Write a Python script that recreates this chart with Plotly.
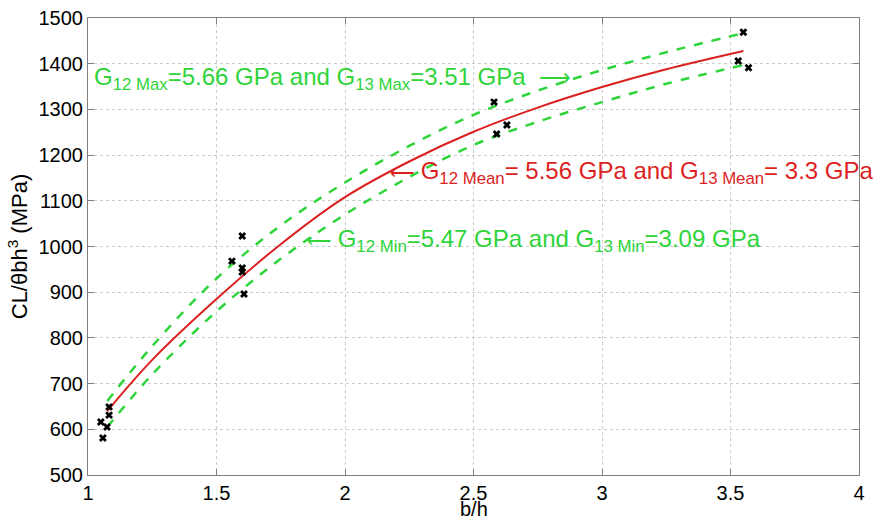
import plotly.graph_objects as go

# Experimental points (b/h, CL/theta bh^3 in MPa)
exp_x = [1.05, 1.058, 1.074, 1.082, 1.082,
         1.56, 1.60, 1.60, 1.60, 1.607,
         2.58, 2.59, 2.63,
         3.53, 3.55, 3.57]
exp_y = [616, 581, 605, 649, 631,
         968, 1023, 953, 944, 896,
         1316, 1246, 1266,
         1406, 1469, 1391]

# Model curves for mean, max and min shear moduli
curve_x = [1.075, 1.25, 1.5, 1.75, 2.0, 2.25, 2.5, 2.75, 3.0, 3.25, 3.55]
mean_y = [640, 752, 885, 1005, 1108, 1186, 1251, 1304, 1349, 1388, 1428]
max_y = [662, 782, 930, 1046, 1140, 1220, 1288, 1341, 1386, 1425, 1467]
min_y = [605, 720, 858, 973, 1070, 1152, 1222, 1273, 1316, 1356, 1397]

x_ticks = [1, 1.5, 2, 2.5, 3, 3.5, 4]
y_ticks = [500, 600, 700, 800, 900, 1000, 1100, 1200, 1300, 1400, 1500]

RED = "#dc1f1f"
GREEN = "#2ed43a"
FONT = "Arial, Liberation Sans, sans-serif"
LEFT_ARROW = "<span style='font-size:17px'>\u27f5</span>"
RIGHT_ARROW = "<span style='font-size:22px'>\u27f6</span>"

fig = go.Figure()
fig.add_trace(go.Scatter(x=curve_x, y=max_y, mode="lines", line_shape="spline",
                         line=dict(color=GREEN, width=2.5, dash="dash")))
fig.add_trace(go.Scatter(x=curve_x, y=min_y, mode="lines", line_shape="spline",
                         line=dict(color=GREEN, width=2.5, dash="dash")))
fig.add_trace(go.Scatter(x=curve_x, y=mean_y, mode="lines", line_shape="spline",
                         line=dict(color=RED, width=2)))
fig.add_trace(go.Scatter(x=exp_x, y=exp_y, mode="markers",
                         marker=dict(symbol="x", size=7, color="black",
                                     line=dict(width=0))))

fig.add_annotation(x=1.017, y=1368, xref="x", yref="y", xanchor="left", yanchor="middle",
                   showarrow=False, font=dict(family=FONT, size=24, color=GREEN),
                   text="G<sub>12 Max</sub>=5.66 GPa and G<sub>13 Max</sub>=3.51 GPa  " + RIGHT_ARROW)
fig.add_annotation(x=2.167, y=1162, xref="x", yref="y", xanchor="left", yanchor="middle",
                   showarrow=False, font=dict(family=FONT, size=24, color=RED),
                   text=LEFT_ARROW + " G<sub>12 Mean</sub>= 5.56 GPa and G<sub>13 Mean</sub>= 3.3 GPa")
fig.add_annotation(x=1.844, y=1014, xref="x", yref="y", xanchor="left", yanchor="middle",
                   showarrow=False, font=dict(family=FONT, size=24, color=GREEN),
                   text=LEFT_ARROW + " G<sub>12 Min</sub>=5.47 GPa and G<sub>13 Min</sub>=3.09 GPa")

# x-axis title placed below the tick labels
fig.add_annotation(x=0.5, y=-0.1007, xref="paper", yref="paper", xanchor="center",
                   yanchor="bottom", showarrow=False, borderpad=0,
                   font=dict(family=FONT, size=20, color="black"), text="b/h")

axis_common = dict(showline=True, linecolor="#808080", linewidth=1, mirror="ticks",
                   ticks="inside", ticklen=6, tickcolor="#808080",
                   showgrid=True, gridcolor="#cccccc", griddash="dot", gridwidth=1,
                   zeroline=False, automargin=False,
                   tickfont=dict(family=FONT, size=20, color="black"))

fig.update_xaxes(range=[1, 4], tickvals=x_ticks, ticktext=[f"{v:g}" for v in x_ticks],
                 **axis_common)
fig.update_yaxes(range=[500, 1500], tickvals=y_ticks,
                 title=dict(text="CL/\u03b8bh<sup>3</sup> (MPa)",
                            font=dict(family=FONT, size=22, color="black"), standoff=4),
                 **axis_common)

fig.update_layout(width=881, height=521, showlegend=False,
                  paper_bgcolor="white", plot_bgcolor="white",
                  margin=dict(l=88, r=22, t=18, b=46))

fig.write_html("out.html")
